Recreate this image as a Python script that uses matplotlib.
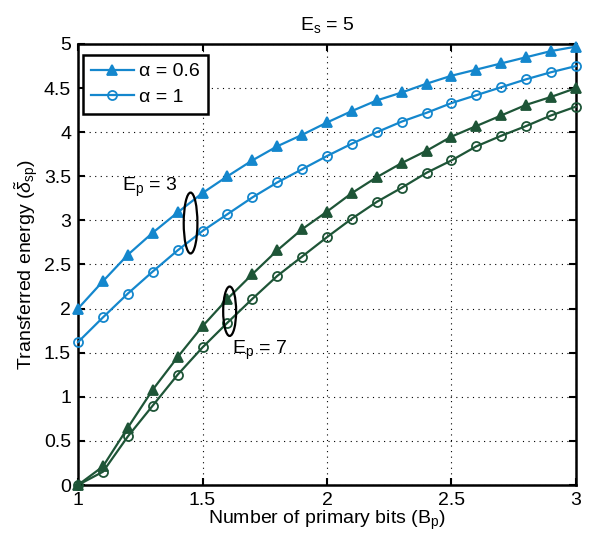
import matplotlib
matplotlib.use("Agg")
import matplotlib.pyplot as plt
from matplotlib.patches import Ellipse

plt.rcParams['font.family'] = ['Liberation Sans', 'DejaVu Sans']
plt.rcParams['mathtext.fontset'] = 'custom'
plt.rcParams['mathtext.rm'] = 'Liberation Sans'
plt.rcParams['mathtext.it'] = 'Liberation Sans:italic'
plt.rcParams['mathtext.sf'] = 'Liberation Sans'

# number of primary bits
bp = [1.0, 1.1, 1.2, 1.3, 1.4, 1.5, 1.6, 1.7, 1.8, 1.9, 2.0,
      2.1, 2.2, 2.3, 2.4, 2.5, 2.6, 2.7, 2.8, 2.9, 3.0]

# Ep = 3
ep3_a06 = [2.00, 2.31, 2.61, 2.86, 3.09, 3.31, 3.50, 3.68, 3.84, 3.97, 4.11,
           4.24, 4.36, 4.45, 4.55, 4.64, 4.71, 4.78, 4.85, 4.92, 4.97]
ep3_a1 = [1.62, 1.90, 2.17, 2.42, 2.66, 2.88, 3.07, 3.26, 3.43, 3.58, 3.73,
          3.87, 4.00, 4.12, 4.22, 4.33, 4.42, 4.51, 4.60, 4.68, 4.75]
# Ep = 7
ep7_a06 = [0.00, 0.21, 0.65, 1.08, 1.45, 1.80, 2.11, 2.39, 2.66, 2.90, 3.10,
           3.31, 3.49, 3.65, 3.79, 3.95, 4.07, 4.19, 4.31, 4.40, 4.50]
ep7_a1 = [0.00, 0.15, 0.55, 0.90, 1.25, 1.56, 1.84, 2.11, 2.37, 2.59, 2.81,
          3.02, 3.21, 3.37, 3.54, 3.68, 3.84, 3.96, 4.07, 4.19, 4.29]

blue = '#1487cd'
green = '#1e5537'
fs = 14

fig = plt.figure(figsize=(6.02, 5.41), dpi=100)
ax = fig.add_axes([0.1296, 0.1035, 0.8272, 0.8152])

ax.plot(bp, ep3_a06, color=blue, lw=1.6, marker='^', ms=7.5, mew=1.3,
        clip_on=False, zorder=3, label='α = 0.6')
ax.plot(bp, ep3_a1, color=blue, lw=1.6, marker='o', ms=6.5, mew=1.3, mfc='none',
        clip_on=False, zorder=3, label='α = 1')
ax.plot(bp, ep7_a06, color=green, lw=1.6, marker='^', ms=7.5, mew=1.3,
        clip_on=False, zorder=3)
ax.plot(bp, ep7_a1, color=green, lw=1.6, marker='o', ms=6.5, mew=1.3, mfc='none',
        clip_on=False, zorder=3)

# ellipses grouping the curves of the same Ep
ax.add_patch(Ellipse((1.452, 2.97), 0.055, 0.69, fill=False, ec='black', lw=1.6, zorder=4))
ax.add_patch(Ellipse((1.609, 1.97), 0.052, 0.56, fill=False, ec='black', lw=1.6, zorder=4))
ax.text(1.175, 3.37, r'E$_\mathregular{p}$ = 3', fontsize=fs, va='center', ha='left')
ax.text(1.62, 1.53, r'E$_\mathregular{p}$ = 7', fontsize=fs, va='center', ha='left')

ax.set_xlim(1, 3)
ax.set_ylim(0, 5)
ax.set_xticks([1, 1.5, 2, 2.5, 3])
ax.set_xticklabels(['1', '1.5', '2', '2.5', '3'])
ax.set_yticks([0, 0.5, 1, 1.5, 2, 2.5, 3, 3.5, 4, 4.5, 5])
ax.set_yticklabels(['0', '0.5', '1', '1.5', '2', '2.5', '3', '3.5', '4', '4.5', '5'])
ax.tick_params(direction='in', length=5, width=1.5, labelsize=fs, top=True, right=True, pad=5)
ax.grid(True, color='black', ls=(0, (1, 4)), lw=0.8)
for s in ax.spines.values():
    s.set_linewidth(1.8)

ax.set_xlabel(r'Number of primary bits (B$_\mathregular{p}$)', fontsize=fs, labelpad=0)
ax.set_ylabel(r'Transferred energy ($\tilde{\delta}_\mathregular{sp}$)', fontsize=fs, labelpad=3)
ax.set_title(r'E$_\mathregular{s}$ = 5', fontsize=fs, pad=10)

leg = ax.legend(loc='upper left', bbox_to_anchor=(0.01, 0.975), fontsize=fs,
                handlelength=2.2, borderpad=0.4, labelspacing=0.4, handletextpad=0.3,
                fancybox=False, framealpha=1, borderaxespad=0)
leg.get_frame().set_edgecolor('black')
leg.get_frame().set_linewidth(1.8)

fig.savefig('out.png', dpi=100)
